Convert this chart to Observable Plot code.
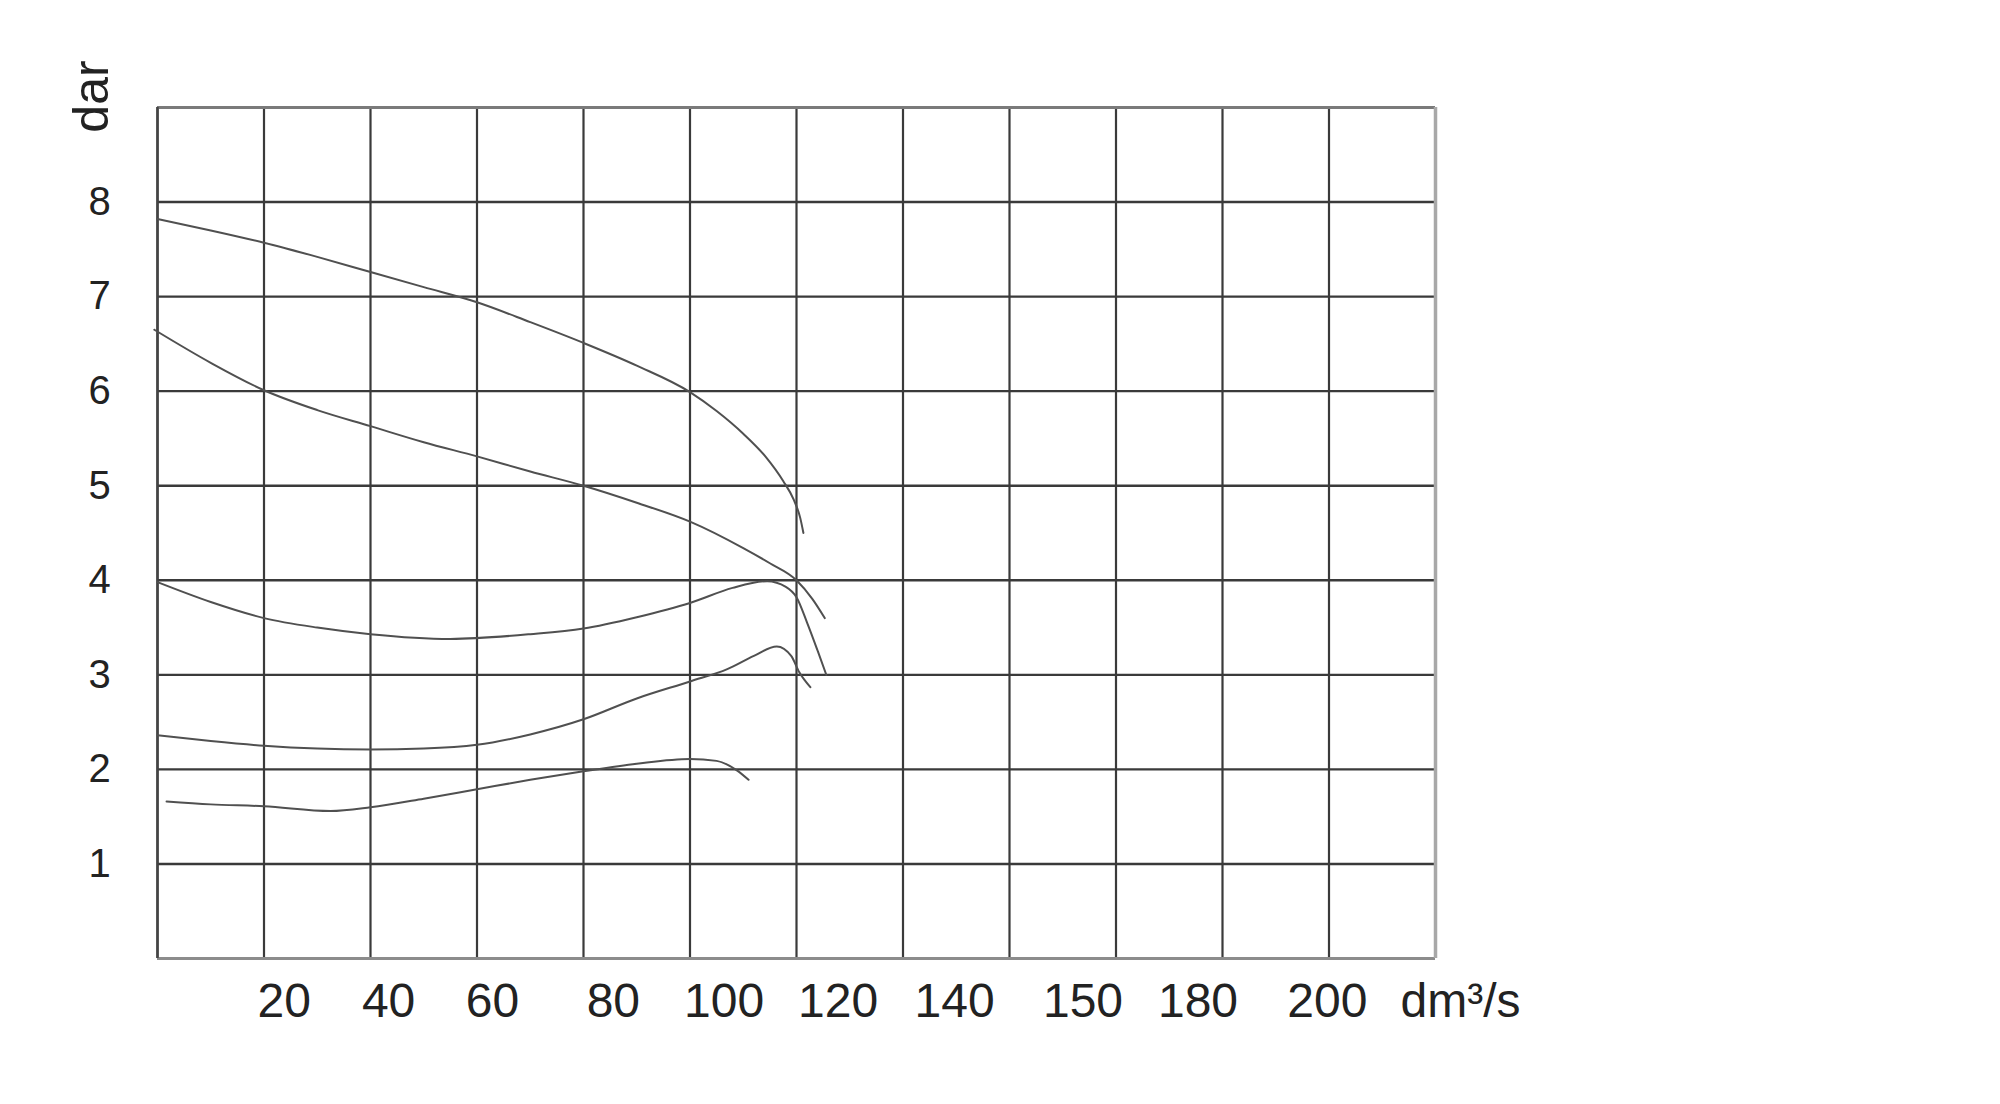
<!DOCTYPE html>
<html>
<head>
<meta charset="utf-8">
<script src="https://cdn.jsdelivr.net/npm/d3@7"></script>
<script src="https://cdn.jsdelivr.net/npm/@observablehq/plot@0.6"></script>
<style>
  html, body { margin: 0; padding: 0; background: #ffffff; }
  #chart svg { display: block; }
</style>
</head>
<body>
<div id="chart"></div>
<script>
// ---- Texts ----
const yAxisLabel = "dar";
const xUnitLabel = "dm³/s";

// ---- Grid / ticks ----
const xGridValues = [0, 20, 40, 60, 80, 100, 120, 140, 160, 180, 200, 220, 240];
const yGridValues = [0, 1, 2, 3, 4, 5, 6, 7, 8, 9];
const yTickValues = [1, 2, 3, 4, 5, 6, 7, 8];
const xTickLabels = ["20", "40", "60", "80", "100", "120", "140", "150", "180", "200"];
const xTickAt     = [23.8, 43.4, 62.9, 85.6, 106.4, 127.8, 149.7, 173.8, 195.4, 219.7];

// ---- Curves: [flow dm³/s, pressure dar] ----
const curve1 = [[0,7.82],[10,7.70],[20,7.57],[30,7.42],[40,7.26],[50,7.10],[60,6.94],[70,6.73],[80,6.51],[90,6.27],[100,5.99],[105,5.79],[110,5.55],[114.3,5.30],[117.5,5.05],[119.5,4.85],[120.7,4.66],[121.3,4.50]];
const curve2 = [[-0.6,6.65],[10,6.30],[20,6.01],[30,5.80],[40,5.63],[50,5.46],[60,5.31],[70,5.15],[80,5.00],[90,4.82],[100,4.62],[110,4.34],[115,4.18],[120,4.00],[123,3.80],[125.3,3.60]];
const curve3 = [[0,3.98],[10,3.77],[20,3.60],[30,3.50],[40,3.43],[55,3.38],[70,3.43],[80,3.49],[90,3.61],[100,3.76],[108,3.92],[114.5,3.99],[118,3.93],[120,3.82],[122,3.55],[124,3.25],[125.6,3.00]];
const curve4 = [[0,2.36],[10,2.30],[20,2.25],[30,2.22],[40,2.21],[50,2.22],[60,2.26],[70,2.37],[80,2.53],[90,2.75],[100,2.93],[107,3.06],[112,3.20],[116.3,3.30],[119,3.20],[120.5,3.03],[122.6,2.87]];
const curve5 = [[1.7,1.66],[10,1.63],[20,1.61],[32.5,1.56],[40,1.60],[50,1.69],[60,1.79],[70,1.89],[80,1.98],[90,2.06],[100,2.11],[105,2.09],[108.8,1.99],[111,1.89]];

const curves = [curve1, curve2, curve3, curve4, curve5];
const xTicks = xTickLabels.map((label, i) => ({label, at: xTickAt[i]}));

const font = "'Liberation Sans', Arial, Helvetica, sans-serif";
const textColor = "#222222";

const chart = Plot.plot({
  width: 2000,
  height: 1104,
  marginLeft: 157,
  marginRight: 565,
  marginTop: 107,
  marginBottom: 146,
  style: {fontFamily: font, background: "#ffffff", color: textColor, overflow: "visible"},
  x: {domain: [0, 240], axis: null},
  y: {domain: [0, 9]},
  marks: [
    Plot.gridX(xGridValues, {stroke: "#3a3a3a", strokeWidth: 2.2, strokeOpacity: 1}),
    Plot.gridY(yGridValues, {stroke: "#3a3a3a", strokeWidth: 2.4, strokeOpacity: 1}),
    Plot.ruleY([yGridValues[yGridValues.length - 1]], {stroke: "#7a7a7a", strokeWidth: 3}),
    Plot.ruleY([yGridValues[0]], {stroke: "#8c8c8c", strokeWidth: 3}),
    Plot.ruleX([xGridValues[xGridValues.length - 1]], {stroke: "#a8a8a8", strokeWidth: 3.5}),
    Plot.ruleX([xGridValues[0]], {stroke: "#444", strokeWidth: 2.4}),
    ...curves.map(c => Plot.line(c, {
      x: d => d[0], y: d => d[1],
      curve: "monotone-x",
      stroke: "#505050", strokeWidth: 2
    })),
    Plot.axisY(yTickValues, {
      tickSize: 0, tickPadding: 58, textAnchor: "middle",
      tickFormat: d => String(d),
      fontSize: 40, label: null, fill: textColor
    }),
    Plot.text(xTicks, {
      x: "at", text: "label",
      frameAnchor: "bottom", lineAnchor: "top", dy: 24,
      fontSize: 48, fill: textColor
    }),
    Plot.text([xUnitLabel], {
      text: d => d,
      frameAnchor: "bottom-right", textAnchor: "start", lineAnchor: "top",
      dx: -35, dy: 24, fontSize: 48, fill: textColor
    }),
    Plot.text([yAxisLabel], {
      text: d => d,
      frameAnchor: "top-left", rotate: -90, textAnchor: "middle",
      dx: -85, dy: -11, fontSize: 50, fill: textColor
    })
  ]
});

document.getElementById("chart").appendChild(chart);
</script>
</body>
</html>
